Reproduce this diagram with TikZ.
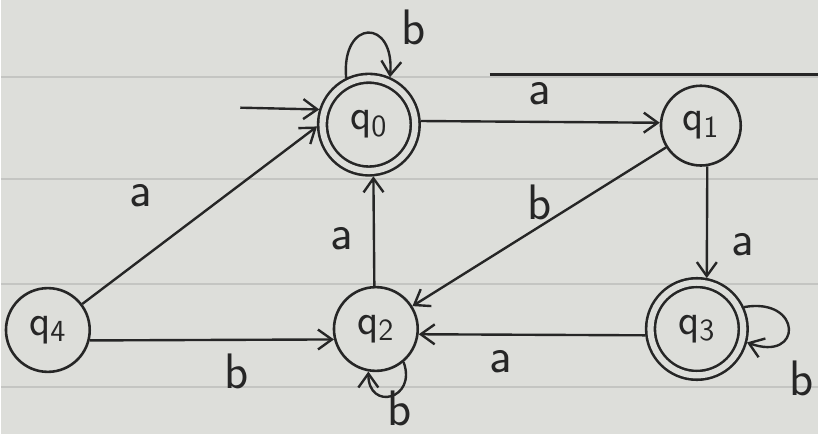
\documentclass[tikz,border=0pt]{standalone}
\usetikzlibrary{arrows.meta,positioning}
\definecolor{paper}{RGB}{221,222,218}
\definecolor{rule}{RGB}{196,197,194}
\definecolor{ink}{RGB}{38,38,38}
\begin{document}
\begin{tikzpicture}[
  x=0.5pt, y=-0.5pt,
  >={Straight Barb[length=7pt,width=10pt]},
  wire/.style={draw=ink, line width=1.2pt, ->},
  state/.style={circle, draw=ink, line width=1.3pt, minimum size=40pt, inner sep=0pt, text=ink, font=\sffamily\fontsize{22}{26}\selectfont},
  accept/.style={state, double=paper, double distance=3.1pt, minimum size=46.5pt, outer sep=2.75pt},
  lbl/.style={text=ink, inner sep=2pt, font=\sffamily\fontsize{25}{30}\selectfont},
]
% lined paper
\fill[paper] (0,0) rectangle (819,435);
\foreach \yy in {77,180,285,388}
  \draw[rule, line width=1pt] (0,\yy) -- (819,\yy);
\draw[ink, line width=1.5pt] (490,75) -- (819,75);
\useasboundingbox (0,0) rectangle (819,435);
% states
\node[accept] (q0) at (369,125) {q\textsubscript{0}};
\node[state] (q1) at (702,126) {q\textsubscript{1}};
\node[state, minimum size=42pt] (q2) at (376,330) {q\textsubscript{2}};
\node[accept] (q3) at (698,330) {q\textsubscript{3}};
\node[state, minimum size=42pt] (q4) at (47,331) {q\textsubscript{4}};
\coordinate (start) at (240,108);
% transitions
\draw[wire] (start) -- (q0.163);
\draw[wire] (q0.116) .. controls +(95:30pt) and +(85:30pt) .. node[pos=0.75, above right=-3pt and 6pt, lbl] {b} (q0.66);
\draw[wire] (q0.4) -- node[above=6pt, lbl] {a} (q1.176);
\draw[wire] (q1) -- node[above=1pt, lbl] {b} (q2);
\draw[wire] (q1.-81) -- node[pos=0.7, right=9.5pt, lbl] {a} (q3.79);
\draw[wire] (q3.25) .. controls +(10:30pt) and +(-20:30pt) .. node[pos=0.75, below right=6pt and 3pt, lbl] {b} (q3.-15);
\draw[wire] (q3.187) -- node[pos=0.64, below=5.5pt, lbl] {a} (q2.-7);
\draw[wire] (q2.92) -- node[pos=0.43, left=8pt, lbl] {a} (q0.-85);
\draw[wire] (q2.-50) .. controls +(-70:20pt) and +(-90:20pt) .. node[pos=0.35, below=-2.5pt, lbl] {b} (q2.-100);
\draw[wire] (q4) -- node[pos=0.4, above left=10.5pt and 9.5pt, lbl] {a} (q0.182);
\draw[wire] (q4.-14) -- node[pos=0.6, below=4.5pt, lbl] {b} (q2.194);
\end{tikzpicture}
\end{document}
